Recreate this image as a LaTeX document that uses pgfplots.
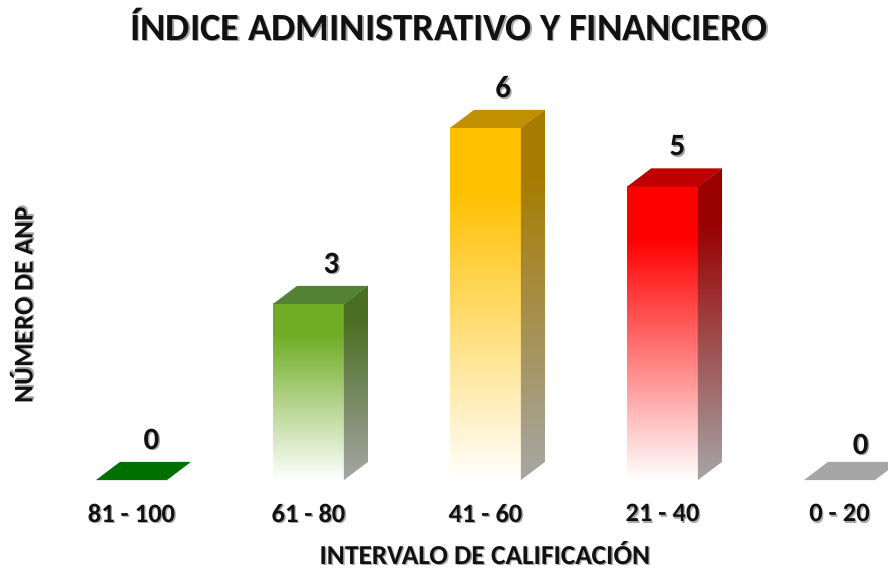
\documentclass[border=0pt]{standalone}
\usepackage{pgfplots}
\pgfplotsset{compat=1.18}
\usepackage{fontspec}
\setmainfont{Carlito}
\definecolor{txt}{HTML}{111111}
\definecolor{shd}{HTML}{A8A8A8}
\definecolor{cgreen}{HTML}{70AD27}
\definecolor{corange}{HTML}{FFC000}
\definecolor{cred}{HTML}{FF0000}
\definecolor{cgray}{HTML}{A6A6A6}
\definecolor{dgreen}{HTML}{4A6F22}
\definecolor{dorange}{HTML}{A67C00}
\definecolor{dred}{HTML}{990000}
\definecolor{tgreen}{HTML}{548235}
\definecolor{torange}{HTML}{C09000}
\definecolor{tred}{HTML}{C00000}
\definecolor{zgreen}{HTML}{007000}
\newcommand{\sh}[1]{\leavevmode\rlap{\kern1.4pt\raisebox{-1.4pt}{\textcolor{shd}{#1}}}#1}
\pgfdeclareverticalshading{fgreen}{100bp}{color(0bp)=(white);color(25bp)=(white);color(66bp)=(cgreen);color(75bp)=(cgreen);color(100bp)=(cgreen)}
\pgfdeclareverticalshading{forange}{100bp}{color(0bp)=(white);color(25bp)=(white);color(66bp)=(corange);color(75bp)=(corange);color(100bp)=(corange)}
\pgfdeclareverticalshading{fred}{100bp}{color(0bp)=(white);color(25bp)=(white);color(66bp)=(cred);color(75bp)=(cred);color(100bp)=(cred)}
\pgfdeclareverticalshading{sgreen}{100bp}{color(0bp)=(cgray);color(25bp)=(cgray);color(66bp)=(dgreen);color(75bp)=(dgreen);color(100bp)=(dgreen)}
\pgfdeclareverticalshading{sorange}{100bp}{color(0bp)=(cgray);color(25bp)=(cgray);color(66bp)=(dorange);color(75bp)=(dorange);color(100bp)=(dorange)}
\pgfdeclareverticalshading{sred}{100bp}{color(0bp)=(cgray);color(25bp)=(cgray);color(66bp)=(dred);color(75bp)=(dred);color(100bp)=(dred)}
\begin{document}
\begin{tikzpicture}[x=1pt,y=1pt]
\path[use as bounding box] (0,-88) rectangle (888,480);
\begin{axis}[
  at={(0,0)},anchor=south west,
  scale only axis,width=888pt,height=480pt,
  xmin=-0.743,xmax=4.274,ymin=0,ymax=8.181,
  axis line style={draw=none},
  major tick length=0pt,
  ytick=\empty,
  xtick={0,1,2,3,4},
  xticklabels={\sh{81 - 100},\sh{61 - 80},\sh{41 - 60},\sh{21 - 40},\sh{0 - 20}},
  xticklabel style={font=\fontsize{26.5}{26.5}\selectfont\bfseries,text=txt,anchor=center,yshift=-34pt},
  title={\sh{ÍNDICE ADMINISTRATIVO Y FINANCIERO}},
  title style={font=\fontsize{38.5}{38.5}\selectfont\bfseries,text=txt,at={(axis description cs:0.5056,0.9354)},anchor=center},
  xlabel={\sh{INTERVALO DE CALIFICACIÓN}},
  xlabel style={font=\fontsize{27.4}{27.4}\selectfont\bfseries,text=txt,at={(axis description cs:0.546,-0.1538)},anchor=center},
  ylabel={\sh{NÚMERO DE ANP}},
  ylabel style={font=\fontsize{27}{27}\selectfont\bfseries,text=txt,at={(axis description cs:0.025,0.3646)},anchor=center},
]
% 81 - 100 (0)
\addplot[fill=zgreen,draw=none] coordinates {(-0.2,0) (0.2,0) (0.336,0.31) (-0.064,0.31)};
% 61 - 80 (3)
\addplot[shading=fgreen,draw=none] coordinates {(0.8,0) (1.2,0) (1.2,3) (0.8,3)};
\addplot[shading=sgreen,draw=none] coordinates {(1.2,0) (1.336,0.31) (1.336,3.31) (1.2,3)};
\addplot[fill=tgreen,draw=none] coordinates {(0.8,3) (1.2,3) (1.336,3.31) (0.936,3.31)};
% 41 - 60 (6)
\addplot[shading=forange,draw=none] coordinates {(1.8,0) (2.2,0) (2.2,6) (1.8,6)};
\addplot[shading=sorange,draw=none] coordinates {(2.2,0) (2.336,0.31) (2.336,6.31) (2.2,6)};
\addplot[fill=torange,draw=none] coordinates {(1.8,6) (2.2,6) (2.336,6.31) (1.936,6.31)};
% 21 - 40 (5)
\addplot[shading=fred,draw=none] coordinates {(2.8,0) (3.2,0) (3.2,5) (2.8,5)};
\addplot[shading=sred,draw=none] coordinates {(3.2,0) (3.336,0.31) (3.336,5.31) (3.2,5)};
\addplot[fill=tred,draw=none] coordinates {(2.8,5) (3.2,5) (3.336,5.31) (2.936,5.31)};
% 0 - 20 (0)
\addplot[fill=cgray,draw=none] coordinates {(3.8,0) (4.2,0) (4.336,0.31) (3.936,0.31)};
% value labels
\addplot[only marks,mark=none,point meta=explicit symbolic,
  nodes near coords={\sh{\pgfplotspointmeta}},
  nodes near coords style={font=\fontsize{31}{31}\selectfont\bfseries,text=txt,anchor=center,yshift=40pt}]
  coordinates {(0.113,0)[0] (1.13,3)[3] (2.1,6)[6] (3.085,5)[5]};
\addplot[only marks,mark=none,point meta=explicit symbolic,
  nodes near coords={\sh{\pgfplotspointmeta}},
  nodes near coords style={font=\fontsize{31}{31}\selectfont\bfseries,text=txt,anchor=center,yshift=35pt}]
  coordinates {(4.12,0)[0]};
\end{axis}
\end{tikzpicture}
\end{document}
